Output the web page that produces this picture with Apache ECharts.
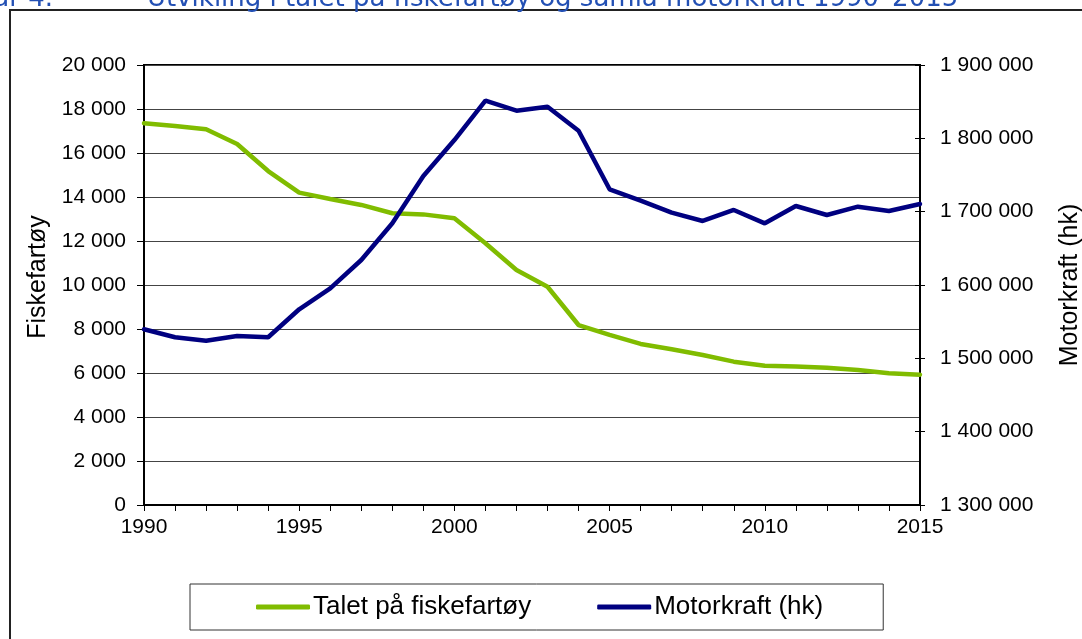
<!DOCTYPE html>
<html>
<head>
<meta charset="utf-8">
<script src="https://cdn.jsdelivr.net/npm/echarts@6/dist/echarts.min.js"></script>
<style>
  html, body { margin: 0; padding: 0; background: #fff; }
  #main { width: 1082px; height: 639px; }
</style>
</head>
<body>
<div id="main"></div>
<script>
// years on the x axis
const years = ['1990', '1991', '1992', '1993', '1994', '1995', '1996', '1997', '1998', '1999',
  '2000', '2001', '2002', '2003', '2004', '2005', '2006', '2007', '2008', '2009',
  '2010', '2011', '2012', '2013', '2014', '2015'];

// Talet på fiskefartøy (left axis)
const vessels = [17350, 17230, 17080, 16410, 15180, 14200, 13910, 13640, 13260, 13210,
  13030, 11900, 10680, 9920, 8180, 7730, 7320, 7080, 6820, 6515,
  6330, 6290, 6240, 6140, 5990, 5920];

// Motorkraft (hk) (right axis)
const power = [1539600, 1528700, 1524000, 1530500, 1528700, 1566900, 1595500, 1634100, 1684100, 1748600,
  1797700, 1851300, 1837700, 1843100, 1810400, 1730500, 1715000, 1698600, 1687300, 1702300,
  1684100, 1707700, 1695500, 1706800, 1700900, 1710500];

const seriesNames = ['Talet på fiskefartøy', 'Motorkraft (hk)'];
const axisNames = ['Fiskefartøy', 'Motorkraft (hk)'];
const titleParts = ['Figur 4.', 'Utvikling i talet på fiskefartøy og samla motorkraft 1990–2015'];

const FONT = "'Liberation Sans', Arial, sans-serif";

function spaced(v) {
  return String(v).replace(/\B(?=(\d{3})+(?!\d))/g, ' ');
}

const chart = echarts.init(document.getElementById('main'));

const option = {
  animation: false,
  backgroundColor: '#fff',
  textStyle: { fontFamily: FONT },
  graphic: [
    {
      type: 'rect',
      z: -1,
      shape: { x: 10, y: 10, width: 1100, height: 700 },
      style: { fill: 'none', stroke: '#222', lineWidth: 2 }
    },
    {
      type: 'text',
      left: -44,
      top: -14,
      style: { text: titleParts[0], font: "26px 'DejaVu Sans', Verdana, sans-serif", fill: '#2350b4' }
    },
    {
      type: 'text',
      left: 147,
      top: -14,
      style: { text: titleParts[1], font: "26px 'DejaVu Sans', Verdana, sans-serif", fill: '#2350b4' }
    }
  ],
  grid: {
    left: 144,
    right: 162,
    top: 65,
    bottom: 134,
    show: true,
    borderColor: '#000',
    borderWidth: 2,
    outerBoundsMode: 'none'
  },
  legend: {
    left: 190,
    top: 584,
    padding: [10, 60, 10, 66],
    itemGap: 66,
    itemWidth: 54,
    itemHeight: 5,
    icon: 'roundRect',
    borderColor: '#333',
    borderWidth: 1,
    borderRadius: 0,
    textStyle: { fontFamily: FONT, fontSize: 26, color: '#000', padding: [0, 0, 0, -2] },
    data: seriesNames
  },
  xAxis: {
    type: 'category',
    data: years,
    boundaryGap: false,
    axisLine: { lineStyle: { color: '#000', width: 2 } },
    axisTick: { interval: 0, length: 6, lineStyle: { color: '#000', width: 1 } },
    axisLabel: { interval: 4, margin: 12, fontSize: 21, color: '#000', fontFamily: FONT },
    splitLine: { show: false }
  },
  yAxis: [
    {
      type: 'value',
      min: 0,
      max: 20000,
      interval: 2000,
      name: axisNames[0],
      nameLocation: 'middle',
      nameGap: 88,
      nameRotate: 90,
      nameTextStyle: { fontSize: 25, color: '#000', fontFamily: FONT, padding: [0, 0, 0, 16] },
      axisLine: { show: true, lineStyle: { color: '#000', width: 2 } },
      axisTick: { show: true, length: 7, lineStyle: { color: '#000', width: 1 } },
      axisLabel: { margin: 18, fontSize: 21, color: '#000', fontFamily: FONT, formatter: spaced },
      splitLine: { show: true, lineStyle: { color: '#444', width: 1 } }
    },
    {
      type: 'value',
      position: 'right',
      min: 1300000,
      max: 1900000,
      interval: 100000,
      name: axisNames[1],
      nameLocation: 'middle',
      nameGap: 138,
      nameRotate: 90,
      nameTextStyle: { fontSize: 25, color: '#000', fontFamily: FONT },
      axisLine: { show: true, lineStyle: { color: '#000', width: 2 } },
      axisTick: { show: true, length: 5, lineStyle: { color: '#000', width: 1 } },
      axisLabel: { margin: 20, fontSize: 21, color: '#000', fontFamily: FONT, formatter: spaced },
      splitLine: { show: false }
    },
    {
      // inner half of the cross ticks on the right axis
      type: 'value',
      position: 'right',
      min: 1300000,
      max: 1900000,
      interval: 100000,
      axisLine: { show: false },
      axisTick: { show: true, inside: true, length: 5, lineStyle: { color: '#000', width: 1 } },
      axisLabel: { show: false },
      splitLine: { show: false }
    }
  ],
  series: [
    {
      name: seriesNames[0],
      type: 'line',
      yAxisIndex: 0,
      data: vessels,
      symbol: 'none',
      color: '#80bc00',
      lineStyle: { width: 4.5, color: '#80bc00', cap: 'round' },
      z: 3
    },
    {
      name: seriesNames[1],
      type: 'line',
      yAxisIndex: 1,
      data: power,
      symbol: 'none',
      color: '#000080',
      lineStyle: { width: 4.5, color: '#000080', cap: 'round' },
      z: 4
    }
  ]
};

chart.setOption(option);
</script>
</body>
</html>
